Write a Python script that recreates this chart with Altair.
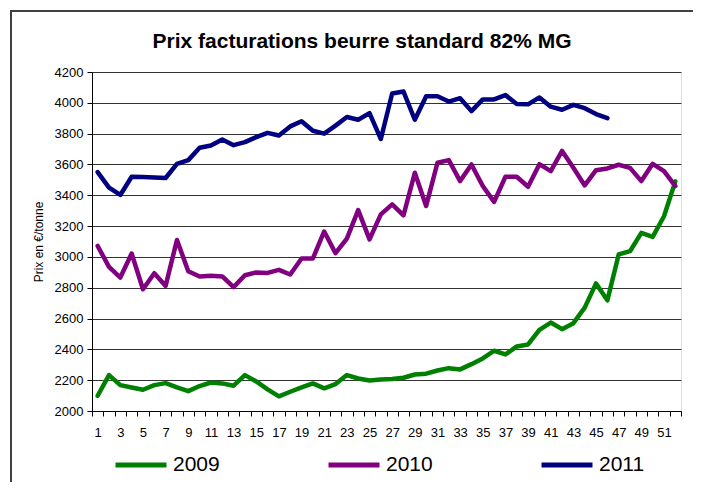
import altair as alt
import pandas as pd

weeks = list(range(1, 53))

prix_2009 = [2099, 2233, 2168, 2153, 2138, 2168, 2181, 2153, 2129, 2162,
             2185, 2179, 2164, 2233, 2192, 2140, 2095, 2125, 2153, 2179,
             2147, 2175, 2233, 2211, 2198, 2205, 2207, 2216, 2237, 2242,
             2263, 2278, 2270, 2304, 2341, 2391, 2367, 2419, 2432, 2527,
             2574, 2531, 2570, 2671, 2828, 2718, 3016, 3037, 3156, 3130,
             3264, 3490]

prix_2010 = [3071, 2935, 2866, 3022, 2790, 2894, 2812, 3110, 2907, 2873,
             2877, 2873, 2804, 2881, 2899, 2896, 2916, 2886, 2990, 2990,
             3165, 3024, 3119, 3304, 3114, 3276, 3341, 3270, 3546, 3331,
             3611, 3628, 3492, 3600, 3460, 3357, 3520, 3520, 3455, 3602,
             3557, 3688, 3578, 3464, 3563, 3574, 3598, 3578, 3492, 3604,
             3557, 3460]

prix_2011 = [3550, 3450, 3402, 3520, 3518, 3516, 3512, 3604, 3628, 3708,
             3723, 3762, 3725, 3745, 3777, 3805, 3788, 3847, 3880, 3819,
             3800, 3852, 3908, 3890, 3933, 3765, 4060, 4073, 3890, 4043,
             4043, 4008, 4030, 3946, 4022, 4022, 4050, 3992, 3990, 4035,
             3975, 3955, 3987, 3965, 3927, 3900]

series = ["2009", "2010", "2011"]
colors = ["#008000", "#800080", "#000080"]
y_ticks = list(range(2000, 4201, 200))
titre = ["Prix facturations beurre standard 82% MG"]

rows = []
for name, vals in zip(series, [prix_2009, prix_2010, prix_2011]):
    for w, v in zip(weeks, vals):
        rows.append({"semaine": w, "prix": v, "annee": name})
df = pd.DataFrame(rows)

FONT = "Liberation Sans"

lines = alt.Chart(df).mark_line(strokeWidth=4.5, strokeJoin="round", strokeCap="round").encode(
    x=alt.X("semaine:O", bandPosition=0.5,
            scale=alt.Scale(type="band", paddingInner=0, paddingOuter=0),
            axis=alt.Axis(title=None, labelAngle=0, tickBand="extent",
                          labelExpr="datum.value % 2 == 1 ? datum.label : ''",
                          tickSize=5, tickColor="#000", domainColor="#000",
                          labelFontSize=13, labelColor="#000", labelPadding=10,
                          labelFont=FONT, grid=False)),
    y=alt.Y("prix:Q", scale=alt.Scale(domain=[2000, 4200], nice=False, zero=False),
            axis=alt.Axis(values=y_ticks, format="d", title="Prix en €/tonne", titleFontSize=12,
                          titleFontWeight="normal", titleFont=FONT, titleColor="#000",
                          titlePadding=9, labelFontSize=13, labelFont=FONT,
                          labelColor="#000", tickSize=5, tickColor="#000",
                          domainColor="#000", labelPadding=4, grid=True,
                          gridColor="#333333", gridWidth=1, gridOpacity=1)),
    color=alt.Color("annee:N", scale=alt.Scale(domain=series, range=colors),
                    legend=alt.Legend(orient="none", direction="horizontal",
                                      legendX=21, legendY=365, title=None,
                                      symbolType="stroke", symbolSize=2600,
                                      symbolStrokeWidth=5, labelFontSize=21,
                                      labelFont=FONT, labelColor="#000",
                                      labelOffset=4, columnPadding=98)),
)

frame = alt.Chart(alt.Data(values=[{"a": 1}])).mark_rect(
    filled=False, stroke="#404040", strokeWidth=2
).encode(x=alt.value(-81), x2=alt.value(640), y=alt.value(-61), y2=alt.value(500))

title = alt.Chart(alt.Data(values=[{"t": t} for t in titre])).mark_text(
    fontSize=21, fontWeight="bold", font=FONT, color="#000", baseline="alphabetic"
).encode(text="t:N", x=alt.value(270), y=alt.value(-24))

chart = alt.layer(frame, lines, title).properties(
    width=589, height=339,
    autosize=alt.AutoSizeParams(type="none"),
    padding={"left": 84, "top": 64, "right": 12, "bottom": 71},
).configure_view(stroke=None).configure(background="white")

chart.save("out.html", embed_options={"renderer": "svg", "actions": False})
